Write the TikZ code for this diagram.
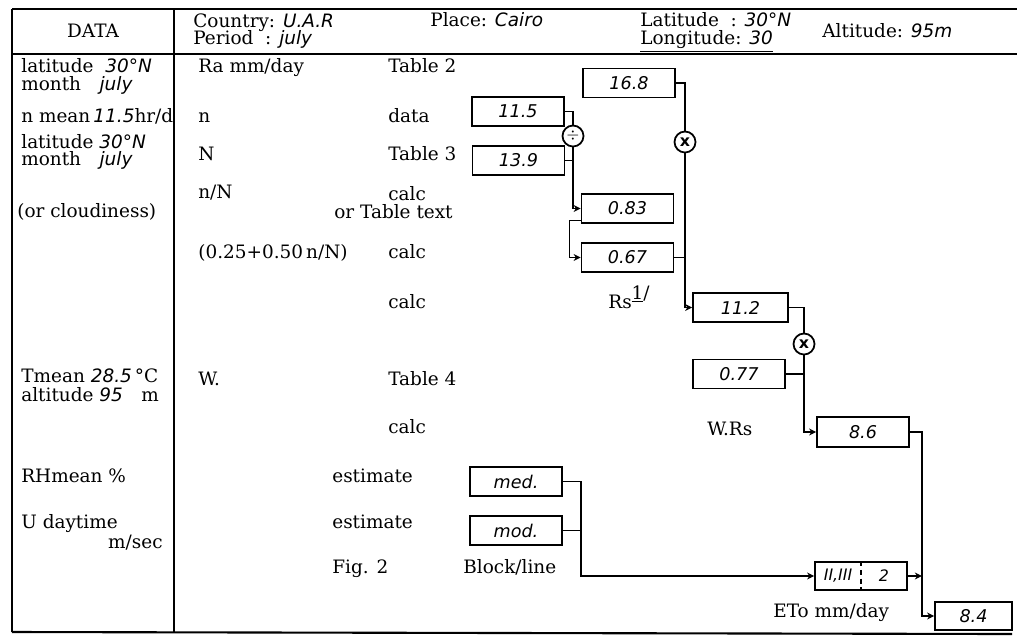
\documentclass[tikz,border=0pt]{standalone}
\usepackage{fontspec}
\setmainfont{DejaVu Serif}
\newfontfamily\handfont{DejaVu Sans}
\usetikzlibrary{calc,arrows.meta}

% handwritten entries on the form
\newcommand{\hw}[1]{{\handfont\itshape #1}}

\begin{document}
\begin{tikzpicture}[
    x=0.02cm, y=-0.02cm,
    % --- Styles ---
    label text/.style={font=\fontsize{10.5}{12}\selectfont, anchor=west, inner sep=0pt,
        text height=1.5ex, text depth=.25ex},
    % Boxes holding the worked values
    value box/.style={draw, line width=1pt, minimum width=1.84cm, minimum height=0.58cm,
        inner sep=0pt, font=\handfont\itshape\fontsize{10}{12}\selectfont},
    op circle/.style={draw, circle, line width=1pt, minimum size=0.42cm, inner sep=0pt,
        font=\handfont\bfseries\small},
    wire/.style={line width=0.9pt},
    feed/.style={wire, -{Stealth[length=4pt, width=4pt]}},
    frame line/.style={line width=1.2pt}
]

%================CONFIGURATION================
% Column positions (px of the form)
\def\colA{21}
\def\colB{198}
\def\colC{388}
\def\colD{332}
%=============================================

\useasboundingbox (0,0) rectangle (1017,640);

% --- Form frame ---
\draw[frame line] (12,9) -- (1017,9);
\draw[frame line] (12,54) -- (1017,54);
\draw[frame line] (12,632) -- (1012,634);
\draw[frame line] (12,9) -- (12,632);
\draw[frame line] (174,9) -- (174,632);

% --- Header ---
\node[label text, anchor=center] (hdata) at (93,32) {DATA};
\node[label text] (hcountry) at (193,22) {Country: \hw{U.A.R}};
\node[label text] (hperiod) at (193,39) {Period\ \ : \hw{july}};
\node[label text] (hplace) at (430,21) {Place: \hw{Cairo}};
\node[label text] (hlat) at (640,21) {Latitude\ \ : \hw{30°N}};
\node[label text] (hlong) at (640,39) {\underline{Longitude: \hw{30}}};
\node[label text] (halt) at (822,32) {Altitude: \hw{95m}};

% --- Data column ---
\foreach \yy/\txt [count=\c] in {67/{latitude\ \ \hw{30°N}}, 85/{month\quad\hw{july}},
    117/{n mean\,\hw{11.5}hr/d}, 143/{latitude \hw{30°N}}, 160/{month\quad\hw{july}},
    377/{Tmean \hw{28.5}\,°C}, 396/{altitude \hw{95}\quad m},
    477/{RHmean \%}, 523/{U daytime}} {
    \node[label text, text height=1.2ex, text depth=0pt] (A\c) at (\colA, \yy) {\txt};
}
\node[label text] (Acloud) at (17,212) {(or cloudiness)};
\node[label text, anchor=east] (Awind) at (163,543) {m/sec};

% --- Parameter column ---
\foreach \yy/\txt [count=\c] in {67/{Ra mm/day}, 117/n, 155/N, 193/{n/N},
    253/{(0.25+0.50\,n/N)}, 380/W.} {
    \node[label text] (B\c) at (\colB, \yy) {\txt};
}

% --- Source column ---
\foreach \yy/\txt [count=\c] in {67/Table 2, 117/data, 155/Table 3, 195/calc,
    253/calc, 303/calc, 380/Table 4, 428/calc} {
    \node[label text] (C\c) at (\colC, \yy) {\txt};
}
\node[label text] (Ctext) at (334,213) {or Table text};
\node[label text] (D1) at (\colD,477) {estimate};
\node[label text] (D2) at (\colD,523) {estimate};
\node[label text] (D3) at (\colD,568) {Fig. 2};
\node[label text] (D4) at (463,568) {Block/line};

% --- Value boxes ---
\node[value box] (ra) at (629,83) {16.8};
\node[value box] (nval) at (518,111.5) {11.5};
\node[value box] (Nval) at (518.5,160.5) {13.9};
\node[value box] (ratio) at (627.5,208.5) {0.83};
\node[value box] (frac) at (627.5,257.5) {0.67};
\node[value box, minimum width=1.9cm] (rs) at (740.5,307.5) {11.2};
\node[value box] (wf) at (739,374) {0.77};
\node[value box, minimum height=0.6cm] (wrs) at (863,432) {8.6};
\node[value box] (rh) at (516,481.5) {med.};
\node[value box] (ud) at (516,530.5) {mod.};
\node[value box, minimum height=0.56cm] (adj) at (861,576) {};
\node[value box, minimum width=1.54cm, minimum height=0.56cm] (eto) at (973.5,616) {8.4};

% split adjustment box
\draw[densely dashed, line width=0.8pt] (adj.north) -- (adj.south);
\node[font=\handfont\itshape\small] (adjcase) at ($(adj.center)+(-23,0)$) {II,III};
\node[font=\handfont\itshape\small] (adjval) at ($(adj.center)+(23,0)$) {2};

% --- Operators ---
\node[op circle] (div) at (573,136) {$\div$};
\node[op circle] (mul1) at (685,142) {x};
\node[op circle] (mul2) at (804,344) {x};

% --- Labels by the boxes ---
\node[label text] (lrs) at (608,303) {Rs\raisebox{1ex}{\underline{1}/}};
\node[label text] (lwrs) at (707,430) {W.Rs};
\node[label text] (leto) at (773,612) {ETo mm/day};

% --- Connectors ---
\draw[wire] (ra.east) -| (mul1.north);
\draw[wire] (nval.east) -| (div.north);
\draw[wire] (Nval.east) -| (div.south);
\draw[feed] (div.south) |- (ratio.west);
\draw[feed] ($(ratio.west)+(0,12)$) -- ++(-11,0) |- (frac.west);
\draw[wire] (frac.east) -- (frac.east -| mul1.south);
\draw[feed] (mul1.south) |- (rs.west);
\draw[wire] (rs.east) -| (mul2.north);
\draw[wire] (wf.east) -| (mul2.south);
\draw[feed] (mul2.south) |- (wrs.west);
\coordinate (drop) at ($(wrs.east)+(12,0)$);
\draw[feed] (wrs.east) -- (drop) |- (eto.west);
\draw[feed] (adj.east) -- (adj.east -| drop);
\draw[feed] (rh.east) -- ++(18,0) coordinate (tie) |- (adj.west);
\draw[wire] (ud.east) -- (ud.east -| tie);

\end{tikzpicture}
\end{document}
